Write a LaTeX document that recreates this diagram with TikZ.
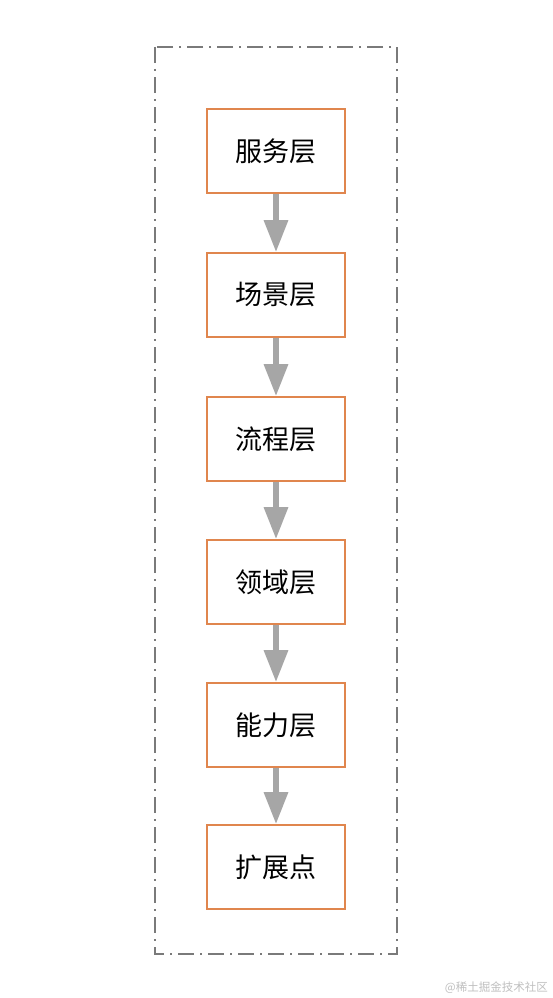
\documentclass[tikz,border=0pt]{standalone}
\usepackage{fontspec}
\setmainfont{Noto Sans CJK SC}
\usetikzlibrary{arrows.meta}
\definecolor{boxorange}{HTML}{E0864E}
\definecolor{arrowgray}{HTML}{A6A6A6}
\definecolor{framegray}{HTML}{7A7A7A}
\tikzset{
  layerbox/.style={draw=boxorange, line width=1.6pt, fill=white, minimum width=138pt, minimum height=84pt, inner sep=0pt, font=\fontsize{27pt}{32pt}\selectfont},
  flowarrow/.style={draw=arrowgray, line width=6pt, -{Triangle[width=23pt,length=32pt]}},
  frame/.style={draw=framegray, line width=1.6pt, dash pattern=on 16pt off 6pt on 2pt off 6pt}
}
\begin{document}
\begin{tikzpicture}[x=1pt,y=-1pt]
\useasboundingbox[fill=white] (0,0) rectangle (552,998);
\draw[frame] (155,47) rectangle (397,954);
\node[layerbox] (a) at (276,151) {服务层};
\node[layerbox] (b) at (276,295) {场景层};
\node[layerbox] (c) at (276,439) {流程层};
\node[layerbox] (d) at (276,582) {领域层};
\node[layerbox] (e) at (276,725) {能力层};
\node[layerbox] (f) at (276,867) {扩展点};
\draw[flowarrow] (a.south) -- (b.north);
\draw[flowarrow] (b.south) -- (c.north);
\draw[flowarrow] (c.south) -- (d.north);
\draw[flowarrow] (d.south) -- (e.north);
\draw[flowarrow] (e.south) -- (f.north);
\node[anchor=east, text=black!25, font=\fontsize{11.5pt}{13pt}\selectfont, inner sep=0pt] (wm) at (548,988) {@稀土掘金技术社区};
\end{tikzpicture}
\end{document}
